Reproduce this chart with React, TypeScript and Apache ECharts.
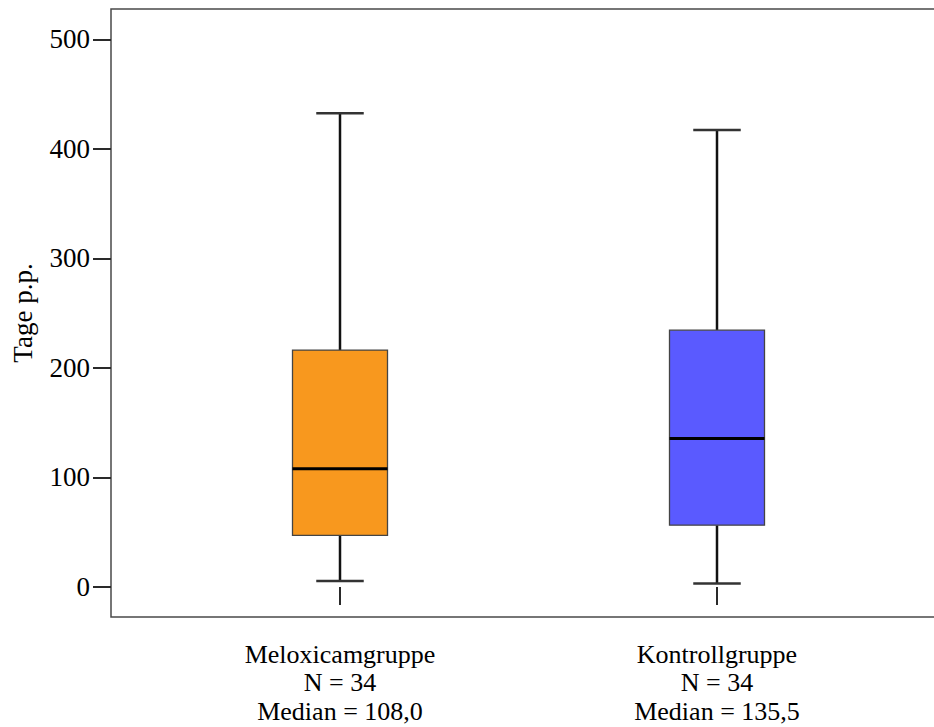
import React, { useEffect, useRef } from "react";
import * as echarts from "echarts";

const categories = ["Meloxicamgruppe", "Kontrollgruppe"];
const nValues = [34, 34];
const medianLabels = ["108,0", "135,5"];
const whiskerLow = [5.5, 3.1];
const q1 = [47.2, 56.4];
const median = [108.0, 135.5];
const q3 = [216.3, 234.5];
const whiskerHigh = [432.6, 417.2];
const boxColors = ["#F8981E", "#5A5AFF"];
const yTicks = [0, 100, 200, 300, 400, 500];

const FONT = "'Liberation Serif', 'Times New Roman', serif";

export default function App() {
  const ref = useRef<HTMLDivElement>(null);
  useEffect(() => {
    if (!ref.current) return;
    const chart = echarts.init(ref.current, undefined, { renderer: "svg" });
    const data = categories.map((_, i) => [i, whiskerLow[i], q1[i], median[i], q3[i], whiskerHigh[i]]);
    chart.setOption({
      animation: false,
      backgroundColor: "#fff",
      grid: [
        { left: 111, top: 9, right: -10, bottom: 110, show: true, borderColor: "#4a4a4a", borderWidth: 1.5, backgroundColor: "transparent", containLabel: false, outerBoundsMode: "none" },
        { left: 151.5, top: 9, right: 28.5, bottom: 110, containLabel: false, outerBoundsMode: "none" },
      ],
      xAxis: [
        {
          type: "category",
          gridIndex: 1,
          data: categories,
          axisLine: { show: false },
          axisTick: { show: true, alignWithLabel: true, length: 18, lineStyle: { color: "#2a2a2a", width: 2 } },
          axisLabel: {
            margin: 23,
            color: "#000",
            fontFamily: FONT,
            fontSize: 26,
            lineHeight: 28.5,
            formatter: (v: string) => {
              const i = categories.indexOf(v);
              return `${v}\nN = ${nValues[i]}\nMedian = ${medianLabels[i]}`;
            },
          },
          splitLine: { show: false },
        },
        { type: "value", gridIndex: 0, show: false, min: 0, max: 1 },
      ],
      yAxis: [
        {
          type: "value",
          gridIndex: 1,
          min: -27.4,
          max: 527.7,
          offset: 40.5,
          name: "Tage p.p.",
          nameLocation: "middle",
          nameGap: 75,
          nameTextStyle: { color: "#000", fontFamily: FONT, fontSize: 27 },
          axisLine: { show: false },
          axisTick: { show: true, length: 18, customValues: yTicks, lineStyle: { color: "#2a2a2a", width: 2 } },
          axisLabel: { customValues: yTicks, margin: 21, color: "#000", fontFamily: FONT, fontSize: 27 },
          splitLine: { show: false },
        },
        { type: "value", gridIndex: 0, show: false, min: 0, max: 1 },
      ],
      series: [
        {
          type: "custom",
          xAxisIndex: 0,
          yAxisIndex: 0,
          data,
          encode: { x: 0, y: [1, 2, 3, 4, 5] },
          renderItem: (params: any, api: any) => {
            const idx = api.value(0);
            const band = api.size([1, 0])[0];
            const bw = band * 0.252;
            const cw = bw * 0.5;
            const pLow = api.coord([idx, api.value(1)]);
            const pQ1 = api.coord([idx, api.value(2)]);
            const pMed = api.coord([idx, api.value(3)]);
            const pQ3 = api.coord([idx, api.value(4)]);
            const pHigh = api.coord([idx, api.value(5)]);
            const cx = pMed[0];
            const color = boxColors[params.dataIndex];
            const wStyle = { stroke: "#111", lineWidth: 2.5 };
            return {
              type: "group",
              children: [
                { type: "line", shape: { x1: cx, y1: pQ3[1], x2: cx, y2: pHigh[1] }, style: wStyle },
                { type: "line", shape: { x1: cx, y1: pQ1[1], x2: cx, y2: pLow[1] }, style: wStyle },
                { type: "line", shape: { x1: cx - cw / 2, y1: pHigh[1], x2: cx + cw / 2, y2: pHigh[1] }, style: { stroke: "#333", lineWidth: 2.5 } },
                { type: "line", shape: { x1: cx - cw / 2, y1: pLow[1], x2: cx + cw / 2, y2: pLow[1] }, style: { stroke: "#333", lineWidth: 2.5 } },
                {
                  type: "rect",
                  shape: { x: cx - bw / 2, y: pQ3[1], width: bw, height: pQ1[1] - pQ3[1] },
                  style: { fill: color, stroke: "#444", lineWidth: 1.3 },
                },
                { type: "line", shape: { x1: cx - bw / 2, y1: pMed[1], x2: cx + bw / 2, y2: pMed[1] }, style: { stroke: "#000", lineWidth: 3 } },
              ],
            };
          },
        },
      ],
    });
    return () => chart.dispose();
  }, []);
  return <div ref={ref} style={{ width: 934, height: 727, position: "absolute", left: 0, top: 0 }} />;
}
